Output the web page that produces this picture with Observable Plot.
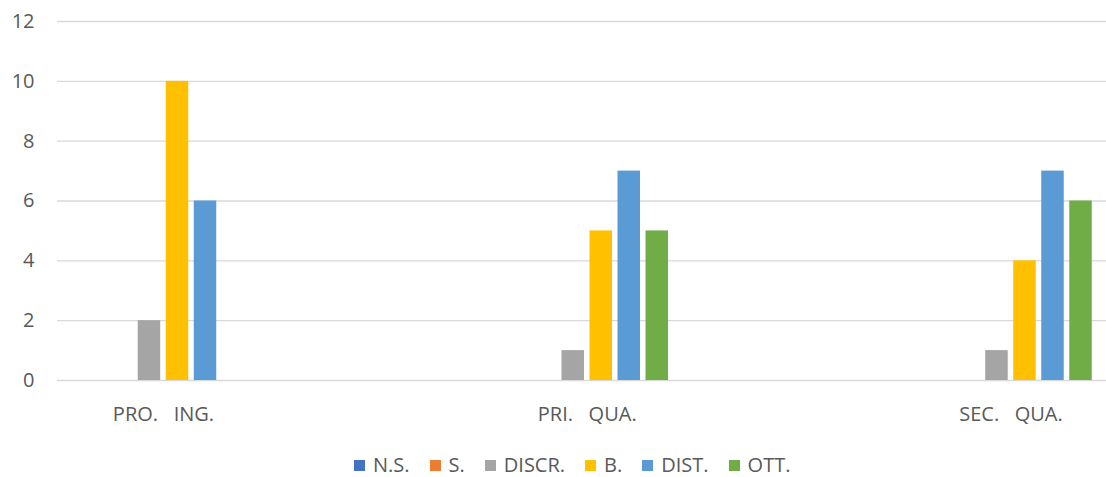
<!DOCTYPE html>
<html><head><meta charset="utf-8">
<script src="https://cdn.jsdelivr.net/npm/d3@7"></script>
<script src="https://cdn.jsdelivr.net/npm/@observablehq/plot@0.6"></script>
<style>
body{margin:0;background:#fff;}
#chart{position:relative;width:1106px;height:477px;overflow:hidden;}
#legend{position:absolute;left:354px;top:455px;line-height:20px;}
.lg-swatches{margin:0 !important;line-height:20px;}
.lg-swatches-wrap{min-height:0 !important;}
.lg-swatch{margin-right:20px !important;height:20px;}
.lg-swatch > svg{margin-right:8px !important;}
#chart svg text{white-space:pre;}
</style></head><body><div id="chart"><div id="plot"></div><div id="legend"></div></div>
<script>
const categories = ["PRO.   ING.", "PRI.   QUA.", "SEC.   QUA."];
const seriesNames = ["N.S.", "S.", "DISCR.", "B.", "DIST.", "OTT."];
const nsValues = [0, 0, 0];
const sValues = [0, 0, 0];
const discrValues = [2, 1, 1];
const bValues = [10, 5, 4];
const distValues = [6, 7, 7];
const ottValues = [0, 5, 6];
const yTicks = [0, 2, 4, 6, 8, 10, 12];

const seriesValues = [nsValues, sValues, discrValues, bValues, distValues, ottValues];
const colors = ["#4472C4", "#ED7D31", "#A5A5A5", "#FFC000", "#5B9BD5", "#70AD47"];

const rows = categories.flatMap((c, ci) =>
  seriesNames.map((s, si) => ({category: c, ci, series: s, si, value: seriesValues[si][ci]})));

// layout in category units (1 unit = one category)
const slot = 0.0661, barW = 0.0531;

const chart = Plot.plot({
  width: 1106, height: 445,
  marginLeft: 57, marginRight: 0, marginTop: 21, marginBottom: 65,
  style: {fontFamily: "'Open Sans', sans-serif", fontSize: "20px", color: "#595959", background: "#fff"},
  x: {type: "linear", domain: [-0.2501, 2.2254]},
  y: {domain: [0, 12]},
  color: {domain: seriesNames, range: colors},
  marks: [
    Plot.ruleY(yTicks, {stroke: "#D9D9D9", strokeWidth: 1.3}),
    Plot.rectY(rows, {
      x1: d => d.ci + (d.si - 2.5) * slot - barW / 2,
      x2: d => d.ci + (d.si - 2.5) * slot + barW / 2,
      y1: 0, y2: "value", fill: "series", inset: 0
    }),
    Plot.axisY(yTicks, {tickSize: 0, tickPadding: 23, label: null}),
    Plot.axisX([0, 1, 2], {tickSize: 0, tickPadding: 26, tickFormat: i => categories[i], label: null})
  ]
});
document.getElementById("plot").appendChild(chart);

const legend = Plot.legend({
  color: {domain: seriesNames, range: colors},
  legend: "swatches", swatchSize: 11, className: "lg",
  style: {fontFamily: "'Open Sans', sans-serif", fontSize: "20px", color: "#595959"}
});
document.getElementById("legend").appendChild(legend);
</script>
</body></html>
